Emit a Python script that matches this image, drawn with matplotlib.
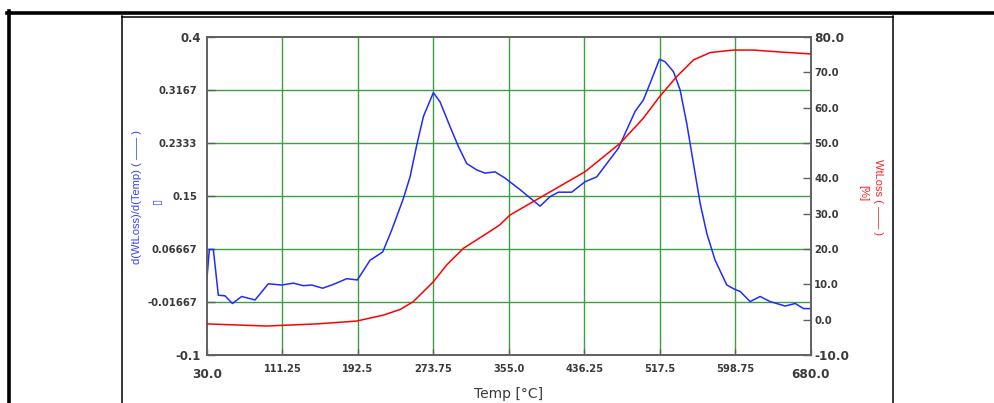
import matplotlib
matplotlib.use("Agg")
import matplotlib.pyplot as plt
from matplotlib.lines import Line2D
from matplotlib.transforms import ScaledTranslation

plt.rcParams['font.family'] = ['DejaVu Sans']

# ---------------- data ----------------
temp_dtg = [30, 32.5, 36.8, 42.2, 49.4, 57.3, 67.3, 81.7, 96, 110.4,
            122.9, 133.7, 142.7, 154.5, 166, 180.4, 191.8, 205.5, 219.1, 228.8,
            241.3, 248.5, 255.7, 262.9, 273.6, 280.8, 291.6, 300.5, 309.5, 320.3,
            329.2, 340, 350.8, 366.9, 388.4, 399.2, 408.2, 422.5, 436.9, 449.4,
            460.2, 472.7, 481.7, 490.7, 499.6, 506.8, 516.9, 523, 532, 539.1,
            546.3, 553.5, 560.7, 567.9, 576.8, 589.4, 598.3, 603.7, 614.5, 625.3,
            636, 652.2, 663, 672, 680]
dtg = [0.021, 0.066, 0.066, -0.006, -0.007, -0.019, -0.008, -0.0135, 0.012, 0.010,
       0.013, 0.009, 0.010, 0.005, 0.011, 0.020, 0.018, 0.049, 0.062, 0.0965,
       0.146, 0.180, 0.230, 0.275, 0.3125, 0.298, 0.259, 0.228, 0.201, 0.191,
       0.186, 0.188, 0.178, 0.160, 0.134, 0.149, 0.156, 0.156, 0.1725, 0.180,
       0.201, 0.225, 0.254, 0.283, 0.301, 0.327, 0.365, 0.361, 0.3455, 0.317,
       0.264, 0.201, 0.1385, 0.091, 0.049, 0.010, 0.003, 0.000, -0.016, -0.008,
       -0.016, -0.023, -0.019, -0.027, -0.027]

temp_wl = [30, 94, 148, 191, 220, 238, 252, 273.5, 288, 306, 331, 345, 356, 381,
           437, 474.5, 499.5, 517, 535.5, 553.5, 571.5, 596.5, 618, 650, 680]
wtloss = [-1.2, -1.8, -1.2, -0.4, 1.3, 2.9, 5.1, 10.7, 15.5, 20.2, 24.4, 26.8, 29.6, 33.4,
          41.9, 49.9, 57.0, 63.1, 68.8, 73.5, 75.6, 76.3, 76.3, 75.7, 75.2]

x_ticks = [30.0, 111.25, 192.5, 273.75, 355.0, 436.25, 517.5, 598.75, 680.0]
x_labels = ['30.0', '111.25', '192.5', '273.75', '355.0', '436.25', '517.5', '598.75', '680.0']
yl_ticks = [-0.1, -0.01667, 0.06667, 0.15, 0.2333, 0.3167, 0.4]
yl_labels = ['-0.1', '-0.01667', '0.06667', '0.15', '0.2333', '0.3167', '0.4']
yr_ticks = [-10, 0, 10, 20, 30, 40, 50, 60, 70, 80]
yr_labels = ['-10.0', '0.0', '10.0', '20.0', '30.0', '40.0', '50.0', '60.0', '70.0', '80.0']

# ---------------- figure ----------------
W, H = 995, 403
fig = plt.figure(figsize=(W / 100, H / 100), dpi=100)
fig.patch.set_facecolor('white')

def fx(px):
    return px / W

def fy(py):
    return (H - py) / H

# frames
fig.add_artist(Line2D([fx(7), fx(995)], [fy(12.5), fy(12.5)], color='black', lw=2.6, transform=fig.transFigure))
fig.add_artist(Line2D([fx(9), fx(9)], [fy(11), fy(403)], color='black', lw=2.6, transform=fig.transFigure))
fig.add_artist(Line2D([fx(122.5), fx(892.5)], [fy(16.5), fy(16.5)], color='black', lw=1.1, transform=fig.transFigure))
fig.add_artist(Line2D([fx(122.5), fx(122.5)], [fy(16), fy(403)], color='black', lw=1.1, transform=fig.transFigure))
fig.add_artist(Line2D([fx(892.5), fx(892.5)], [fy(16), fy(403)], color='black', lw=1.1, transform=fig.transFigure))

ax = fig.add_axes([fx(207), fy(355), fx(811) - fx(207), fy(37) - fy(355)])
ax2 = ax.twinx()

grid_c = '#3f9f3f'
spine_c = '#606060'
txt_c = '#3a3a3a'

ax.set_xlim(30, 680)
ax.set_ylim(-0.1, 0.4)
ax2.set_ylim(-10, 80)

for v in x_ticks[1:-1]:
    ax.axvline(v, color=grid_c, lw=1.0, zorder=1)
for v in yl_ticks[1:-1]:
    ax.axhline(v, color=grid_c, lw=1.0, zorder=1)

ax.plot(temp_dtg, dtg, color='#1f2cff', lw=1.1, zorder=3)
ax2.plot(temp_wl, wtloss, color='#ff0000', lw=1.1, zorder=3)

for a in (ax, ax2):
    for s in a.spines.values():
        s.set_color(spine_c)
        s.set_linewidth(1.2)

ax.set_xticks(x_ticks)
ax.set_xticklabels(x_labels)
ax.set_yticks(yl_ticks)
ax.set_yticklabels(yl_labels)
ax2.set_yticks(yr_ticks)
ax2.set_yticklabels(yr_labels)

ax.tick_params(axis='x', direction='in', length=4, width=1, color=spine_c,
               labelsize=7.1, labelcolor=txt_c, pad=6.5)
ax.tick_params(axis='y', direction='in', length=6, width=1, color=spine_c,
               labelsize=7.2, labelcolor=txt_c, pad=7.2)
ax2.tick_params(axis='y', direction='in', length=6, width=1, color=spine_c,
                labelsize=7.2, labelcolor=txt_c, pad=2.2)
for lab in ax.get_xticklabels() + ax.get_yticklabels() + ax2.get_yticklabels():
    lab.set_fontweight('bold')

# larger end labels
xl = ax.get_xticklabels()
for i in (0, len(xl) - 1):
    xl[i].set_fontsize(8.7)
    xl[i].set_transform(xl[i].get_transform() + ScaledTranslation(0, -3 / 72, fig.dpi_scale_trans))
yl = ax.get_yticklabels()
for i in (0, len(yl) - 1):
    yl[i].set_fontsize(8.4)
    yl[i].set_transform(yl[i].get_transform() + ScaledTranslation(3.5 / 100, 0, fig.dpi_scale_trans))
yr = ax2.get_yticklabels()
for i in (0, len(yr) - 1):
    yr[i].set_fontsize(8.7)

ax.set_xlabel('Temp [°C]', fontsize=10, color=txt_c, labelpad=4.5)

# y labels
fig.text(fx(137), fy(197), 'd(WtLoss)/d(Temp) ( —— )', rotation=90, color='#3344ff',
         fontsize=8, ha='center', va='center', family=['Liberation Sans', 'DejaVu Sans'])
fig.text(fx(156), fy(201), '▯', rotation=90, color='#3344ff', fontsize=8,
         ha='center', va='center')
fig.text(fx(878), fy(197), 'WtLoss ( —— )', rotation=270, color='#ff2020',
         fontsize=8, ha='center', va='center', family=['Liberation Sans', 'DejaVu Sans'])
fig.text(fx(863), fy(193), '[%]', rotation=270, color='#ff2020',
         fontsize=8, ha='center', va='center', family=['Liberation Sans', 'DejaVu Sans'])

fig.savefig('out.png', dpi=100, facecolor='white')
